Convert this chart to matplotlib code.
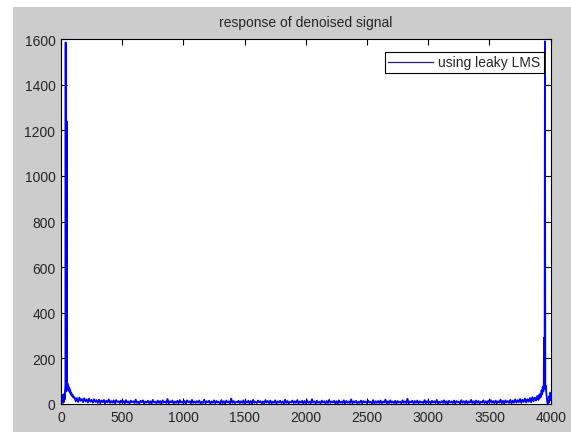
import numpy as np
import matplotlib
matplotlib.use("Agg")
import matplotlib.pyplot as plt
from matplotlib.patches import Rectangle

plt.rcParams['font.family'] = ['Liberation Sans', 'DejaVu Sans']

title = "response of denoised signal"
legend_label = "using leaky LMS"
x_ticks = [0, 500, 1000, 1500, 2000, 2500, 3000, 3500, 4000]
y_ticks = [0, 200, 400, 600, 800, 1000, 1200, 1400, 1600]

# low-frequency region (peaks)
left_x = [0, 3, 6, 9, 12, 15, 18, 21, 24, 27, 30, 33, 36, 38, 40, 42, 44, 46, 48, 50,
          53, 56, 60, 64, 68, 72, 76, 80, 85, 90, 95, 100]
left_y = [3, 35, 15, 40, 8, 30, 5, 38, 10, 45, 20, 60, 80, 1585, 70, 88, 55, 1240, 85, 72,
          90, 65, 80, 58, 70, 50, 60, 42, 48, 35, 40, 28]

# noise floor, bins 110..3890 every 10
noise_start = 110
noise_step = 10
noise_y = [
    30, 12, 26, 9, 28, 14, 22, 8, 25, 11, 20, 7, 23, 10, 18, 6, 21, 9, 17, 5,
    19, 4, 15, 8, 18, 3, 14, 7, 20, 5, 13, 6, 16, 2, 17, 9, 12, 4, 15, 6,
    13, 3, 17, 6, 11, 2, 15, 8, 12, 4, 19, 5, 10, 3, 14, 7, 16, 2, 11, 6,
    14, 4, 12, 2, 18, 7, 10, 3, 15, 5, 13, 1, 16, 6, 11, 4, 22, 3, 12, 7,
    15, 2, 11, 5, 14, 3, 17, 6, 10, 4, 13, 2, 16, 8, 12, 3, 18, 5, 11, 4,
    13, 6, 15, 2, 10, 4, 19, 3, 12, 7, 14, 2, 11, 5, 16, 3, 13, 6, 10, 2,
    17, 4, 12, 3, 15, 6, 11, 2, 24, 5, 13, 4, 10, 7, 14, 3, 12, 5, 16, 2,
    11, 6, 14, 3, 13, 2, 18, 5, 10, 4, 15, 7, 12, 3, 11, 2, 17, 6, 13, 4,
    15, 3, 10, 5, 16, 2, 12, 6, 14, 4, 11, 3, 19, 5, 13, 2, 10, 7, 15, 4,
    12, 5, 17, 3, 11, 6, 14, 2, 13, 4, 16, 5, 10, 3, 21, 6, 12, 2, 14, 5,
    10, 3, 15, 6, 12, 2, 13, 4, 18, 5, 11, 7, 14, 3, 12, 2, 16, 5, 10, 4,
    16, 2, 13, 5, 11, 4, 20, 3, 12, 6, 14, 2, 10, 5, 15, 3, 13, 7, 11, 4,
    14, 6, 10, 3, 17, 2, 12, 5, 13, 4, 15, 3, 11, 6, 19, 2, 12, 4, 16, 5,
    11, 4, 14, 2, 13, 6, 10, 3, 16, 5, 12, 4, 23, 3, 11, 7, 14, 2, 13, 5,
    15, 3, 12, 6, 10, 4, 17, 2, 13, 5, 11, 3, 14, 6, 12, 4, 18, 2, 10, 5,
    13, 5, 16, 3, 12, 2, 14, 6, 11, 4, 15, 3, 13, 7, 10, 2, 17, 5, 12, 4,
    14, 3, 11, 6, 18, 4, 12, 2, 15, 5, 13, 3, 10, 6, 16, 4, 12, 2, 14, 7,
    17, 5, 13, 4, 15, 3, 12, 6, 19, 4, 14, 2, 16, 7, 13, 5, 18, 3, 15, 6,
    20, 6, 17, 8, 22, 5, 19, 9, 24, 7, 21, 10, 26, 8, 30, 12, 28, 15, 35,
]

# high-frequency region (mirror peaks)
right_x = [3900, 3905, 3910, 3915, 3920, 3925, 3930, 3935, 3940, 3943, 3945, 3948, 3950,
           3953, 3956, 3960, 3964, 3968, 3972, 3976, 3980, 3984, 3988, 3992, 3996, 4000]
right_y = [18, 40, 25, 45, 30, 60, 42, 75, 55, 90, 290, 70, 85,
           1590, 65, 80, 50, 30, 8, 2, 20, 5, 35, 15, 50, 45]

noise_x = noise_start + noise_step * np.arange(len(noise_y))
freq = np.concatenate([left_x, noise_x, right_x])
mag = np.concatenate([left_y, noise_y, right_y])

W, H, DPI = 571, 435, 100
TXT = '#262626'
fig = plt.figure(figsize=(W / DPI, H / DPI), dpi=DPI, facecolor='#cccccc')
for (x0, y0, w, h) in [(0, 1 - 8 / H, 1, 8 / H), (0, 0, 13 / W, 1), (0, 0, 1, 2 / H)]:
    fig.patches.append(Rectangle((x0, y0), w, h, transform=fig.transFigure,
                                 facecolor='white', edgecolor='none', zorder=0))

ax = fig.add_axes([61 / W, 30 / H, 489.7 / W, 365 / H])
ax.set_facecolor('white')
ax.plot(freq, mag, color='#0000ff', linewidth=1.3, label=legend_label)
ax.set_xlim(0, 4000)
ax.set_ylim(0, 1600)
ax.set_xticks(x_ticks)
ax.set_yticks(y_ticks)
ax.tick_params(direction='in', length=4, width=0.8, top=True, right=True,
               labelsize=10, colors='black', labelcolor=TXT, pad=4)
for s in ax.spines.values():
    s.set_linewidth(0.8)
    s.set_color('black')

ax.set_title(title, fontsize=10, pad=9, color=TXT)

leg = ax.legend(loc='upper right', bbox_to_anchor=(0.9863, 0.9644), borderaxespad=0,
                fancybox=False, framealpha=1, edgecolor='black', fontsize=10,
                handlelength=3.2, handletextpad=0.4, borderpad=0.25)
leg.get_frame().set_linewidth(0.8)
for t in leg.get_texts():
    t.set_color(TXT)
for l in leg.get_lines():
    l.set_color('#202080')
    l.set_linewidth(0.9)

fig.savefig('out.png', dpi=DPI, facecolor=fig.get_facecolor())
